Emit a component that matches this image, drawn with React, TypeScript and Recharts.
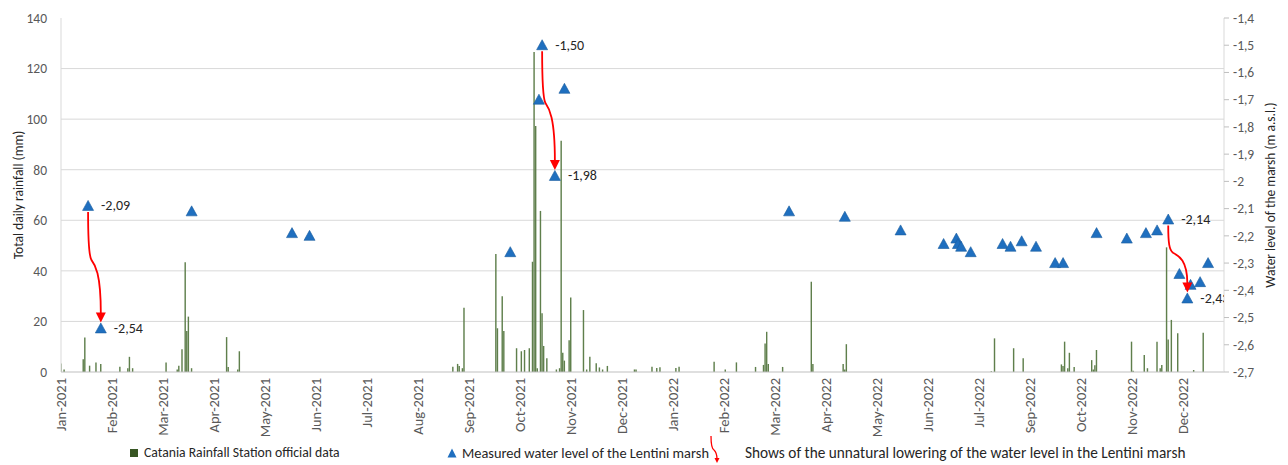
import React from 'react';
import { ComposedChart, Bar, Scatter, Line, XAxis, YAxis, CartesianGrid, Legend } from 'recharts';

// ---------- data ----------
const monthNames = ['Jan', 'Feb', 'Mar', 'Apr', 'May', 'Jun', 'Jul', 'Aug', 'Sep', 'Oct', 'Nov', 'Dec'];
const startYear = 2021;
// Excel date axis: major unit of 32 days starting on 1 Jan 2021
const xTicks = [0, 32, 64, 96, 128, 160, 192, 224, 256, 288, 320, 352, 384, 416, 448, 480, 512, 544, 576, 608, 640, 672, 704];
const rainTicks = [0, 20, 40, 60, 80, 100, 120, 140];
const rainGrid = [20, 40, 60, 80, 100, 120];
const levelTicks = [-2.7, -2.6, -2.5, -2.4, -2.3, -2.2, -2.1, -2.0, -1.9, -1.8, -1.7, -1.6, -1.5, -1.4];

// daily rainfall (day index from 1 Jan 2021, mm)
const rainDays = [
  0, 2, 14, 15, 18, 22, 25, 37, 42, 43, 45, 66, 73, 74, 76, 78, 79, 80, 82, 104, 105, 111, 112,
  246, 249, 250, 252, 253, 273, 274, 277, 278, 286, 289, 291, 294, 296, 297, 298, 299, 301, 302, 303, 305, 311, 313, 314, 315, 316, 319, 320, 328, 330, 332, 336, 338, 340, 343,
  360, 361, 371, 374, 376, 386, 388, 410, 417, 424, 436, 441, 442, 443, 444, 453, 471, 472, 491, 492, 493,
  584, 586, 598, 604, 628, 629, 630, 632, 633, 636, 647, 648, 649, 650, 672, 673, 680, 682, 688, 690, 691, 694, 695, 697, 701, 711, 717,
];
const rainMm = [
  3.4, 1, 5, 13.6, 2.5, 3.8, 3.2, 2.1, 1.5, 6, 1.5, 3.8, 1, 2.5, 9, 43.4, 16.2, 21.9, 1.5, 13.8, 2, 1, 8.2,
  2.1, 3.2, 2.4, 1.5, 25.4, 46.7, 17.3, 30, 16.2, 9.4, 8.2, 8.7, 9.4, 43.6, 126.6, 97.3, 1.5, 63.7, 23.2, 10.3, 5.4, 1, 1.5, 91.5, 7.6, 4.5, 12.6, 29.5, 24.5, 1, 6, 3.5, 1.8, 1, 2.4,
  1, 1, 2.1, 1.6, 1.9, 1.6, 2.1, 4.1, 1, 3.8, 2, 2.8, 11.3, 15.9, 3.2, 2, 35.7, 3.2, 3.2, 1, 11,
  0.3, 13.3, 9.4, 5.4, 3, 2.4, 12, 1.5, 7.6, 2, 4.7, 1, 2.7, 8.7, 12, 0.5, 6.7, 1.5, 12, 1.5, 2.8, 49.3, 12.9, 20.6, 15.3, 0.8, 15.5,
];

// measured water level of the Lentini marsh (m a.s.l.)
const levelDays = [17, 25, 82, 145, 156, 282, 300, 302, 310, 316, 457, 492, 527, 554, 562, 563, 565, 571, 591, 596, 603, 612, 624, 629, 650, 669, 681, 688, 695, 702, 707, 709, 715, 720];
const levelValues = [-2.09, -2.54, -2.11, -2.19, -2.2, -2.26, -1.7, -1.5, -1.98, -1.66, -2.11, -2.13, -2.18, -2.23, -2.21, -2.23, -2.24, -2.26, -2.23, -2.24, -2.22, -2.24, -2.3, -2.3, -2.19, -2.21, -2.19, -2.18, -2.14, -2.34, -2.43, -2.38, -2.37, -2.3];
const labeledDays = [17, 25, 302, 310, 695, 707];

// unnatural lowering arrows (from day -> to day)
const arrowFromDays = [17, 302, 695];
const arrowToDays = [25, 310, 707];

// ---------- derived tables ----------
const rainData = rainDays.map((d, i) => ({ day: d, rain: rainMm[i] }));
const levelData = levelDays.map((d, i) => ({ day: d, level: levelValues[i] }));
const levelAt = (d: number) => levelValues[levelDays.indexOf(d)];
const arrowData = arrowFromDays.map((d, i) => [
  { day: d, arrow: levelAt(d) },
  { day: arrowToDays[i], arrow: levelAt(arrowToDays[i]) },
]);

// ---------- styling ----------
const FONT = "Carlito, Calibri, 'Liberation Sans Narrow', Roboto, sans-serif";
const TXT = '#595959';
const BAR = '#5f7f4c';
const BLUE = '#1f6fbf';
const RED = '#ff0000';

const fmtDate = (day: number) => {
  const dt = new Date(Date.UTC(startYear, 0, 1) + day * 86400000);
  return `${monthNames[dt.getUTCMonth()]}-${dt.getUTCFullYear()}`;
};
const fmtLevelTick = (v: number) => String(Math.round(v * 10) / 10).replace('.', ',');
const fmtLabel = (v: number) => v.toFixed(2).replace('.', ',');

const XTick = (props: any) => {
  const { x, y, payload } = props;
  return (
    <text
      x={x}
      y={y}
      transform={`rotate(-90, ${x}, ${y})`}
      textAnchor="end"
      dominantBaseline="central"
      fontSize={14.5}
      fontFamily={FONT}
      fill={TXT}
    >
      {fmtDate(payload.value)}
    </text>
  );
};

const TriangleShape = (props: any) => {
  const { cx, cy, payload } = props;
  if (cx == null || cy == null) return <g />;
  const showLabel = labeledDays.includes(payload.day);
  return (
    <g>
      <path
        d={`M${cx},${cy - 5.5} L${cx + 5.5},${cy + 4.5} L${cx - 5.5},${cy + 4.5} Z`}
        fill={BLUE}
        stroke="#1a5c9e"
        strokeWidth={0.6}
      />
      {showLabel && (
        <text x={cx + 13} y={cy} dominantBaseline="central" fontSize={14} fontFamily={FONT} fill="#262626">
          {fmtLabel(payload.level)}
        </text>
      )}
    </g>
  );
};

const ArrowDot = (props: any) => {
  const { index, points } = props;
  if (index !== 0 || !points || points.length < 2) return <g key={`ad-${index}`} />;
  const p1 = points[0];
  const p2 = points[1];
  const x1 = p1.x;
  const y1 = p1.y + 6;
  const x2 = p2.x;
  const tipY = p2.y - 6;
  const headH = 10;
  const headW = 5;
  const yEnd = tipY - headH + 1;
  const h = yEnd - y1;
  const dx = x2 - x1;
  const d = `M${x1},${y1} C${x1},${y1 + 0.3 * h} ${x1 + 0.05 * dx},${y1 + 0.42 * h} ${x1 + 0.25 * dx},${y1 + 0.47 * h} C${x1 + 0.55 * dx},${y1 + 0.52 * h} ${x2},${y1 + 0.6 * h} ${x2},${yEnd}`;
  return (
    <g key={`ad-${index}`}>
      <path d={d} fill="none" stroke={RED} strokeWidth={1.8} />
      <path d={`M${x2 - headW},${tipY - headH} L${x2 + headW},${tipY - headH} L${x2},${tipY} Z`} fill={RED} />
    </g>
  );
};

const LegendContent = () => (
  <div style={{ position: 'relative', width: 1280, height: 24, fontFamily: FONT, fontSize: 14, color: '#262626' }}>
    <div style={{ position: 'absolute', left: 122, top: 2, display: 'flex', alignItems: 'center' }}>
      <span style={{ display: 'inline-block', width: 8, height: 8, background: '#375623', marginRight: 6 }} />
      <span style={{ fontSize: 13.7 }}>Catania Rainfall Station official data</span>
    </div>
    <div style={{ position: 'absolute', left: 439, top: 2, display: 'flex', alignItems: 'center' }}>
      <svg width={10} height={10} style={{ marginRight: 5 }}>
        <path d="M5,0.5 L9.5,9.5 L0.5,9.5 Z" fill={BLUE} />
      </svg>
      <span style={{ fontSize: 14.4 }}>Measured water level of the Lentini marsh</span>
    </div>
    <div style={{ position: 'absolute', left: 697, top: -6, width: 20, height: 30 }}>
      <svg width={20} height={30}>
        <path d="M6,0 C6,9 7,13 9,14 C11,16 12,18 12,23" fill="none" stroke={RED} strokeWidth={1.3} />
        <path d="M9.5,22 L14.5,22 L12,27 Z" fill={RED} />
      </svg>
    </div>
    <div style={{ position: 'absolute', left: 737, top: 1 }}>
      <span style={{ fontSize: 15.3 }}>Shows of the unnatural lowering of the water level in the Lentini marsh</span>
    </div>
  </div>
);

export default function App() {
  return (
    <div style={{ width: 1280, height: 457, fontFamily: FONT }}>
      <ComposedChart
        width={1280}
        height={457}
        data={rainData}
        margin={{ top: 10, right: 0, bottom: 0, left: 0 }}
      >
        <CartesianGrid yAxisId="left" vertical={false} horizontalValues={rainGrid} stroke="#d9d9d9" />
        <XAxis
          dataKey="day"
          type="number"
          domain={[0, 730]}
          ticks={xTicks}
          interval={0}
          allowDataOverflow
          height={70}
          tick={<XTick />}
          tickLine={false}
          tickSize={4}
          tickMargin={2}
          axisLine={{ stroke: '#bfbfbf' }}
        />
        <YAxis
          yAxisId="left"
          orientation="left"
          domain={[0, 140]}
          ticks={rainTicks}
          interval={0}
          width={53}
          tickLine={false}
          tickSize={6}
          tickMargin={8}
          axisLine={{ stroke: '#d9d9d9' }}
          tick={{ fill: TXT, fontSize: 13.5, fontFamily: FONT }}
          label={{ value: 'Total daily rainfall (mm)', angle: -90, position: 'insideLeft', offset: 0, dx: 10, style: { textAnchor: 'middle', fill: '#262626', fontSize: 13.5, fontFamily: FONT } }}
        />
        <YAxis
          yAxisId="right"
          orientation="right"
          domain={[-2.7, -1.4]}
          ticks={levelTicks}
          interval={0}
          width={64}
          tickLine={{ stroke: '#bfbfbf' }}
          tickSize={5}
          tickMargin={4}
          axisLine={{ stroke: '#d9d9d9' }}
          tickFormatter={fmtLevelTick}
          tick={{ fill: TXT, fontSize: 13.5, fontFamily: FONT }}
          allowDataOverflow
          label={{ value: 'Water level of the marsh (m a.s.l.)', angle: -90, position: 'insideRight', offset: 0, dx: -18, style: { textAnchor: 'middle', fill: '#262626', fontSize: 13.5, fontFamily: FONT } }}
        />
        <Bar yAxisId="left" dataKey="rain" fill={BAR} barSize={2} isAnimationActive={false} />
        <Scatter
          yAxisId="right"
          data={levelData}
          dataKey="level"
          shape={<TriangleShape />}
          isAnimationActive={false}
        />
        {arrowData.map((seg, i) => (
          <Line
            key={`arrow-${i}`}
            yAxisId="right"
            data={seg}
            dataKey="arrow"
            stroke="none"
            dot={(p: any) => <ArrowDot {...p} key={`ad-${i}-${p.index}`} />}
            activeDot={false}
            legendType="none"
            isAnimationActive={false}
          />
        ))}
        <Legend verticalAlign="bottom" height={23} content={<LegendContent />} />
      </ComposedChart>
    </div>
  );
}
